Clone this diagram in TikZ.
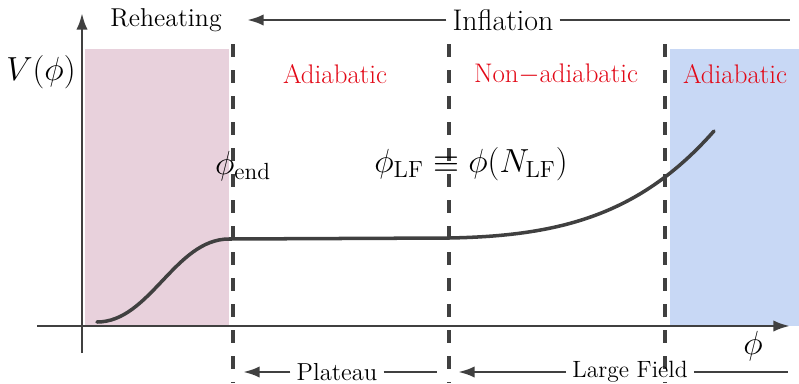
\RequirePackage{fix-cm}
\documentclass[tikz,border=0pt]{standalone}
\usepackage{amsmath}
\usetikzlibrary{arrows.meta}

\definecolor{ink}{RGB}{64,64,64}
\definecolor{reheatpink}{RGB}{232,209,220}
\definecolor{lfblue}{RGB}{200,216,245}
\definecolor{adred}{RGB}{226,8,22}

\begin{document}
\begin{tikzpicture}[x=0.02cm, y=-0.02cm, >={Latex[length=9.5pt,width=6.5pt]},
    font=\fontsize{14}{17}\selectfont,
    region/.style={text=adred, font=\fontsize{15.3}{18}\selectfont},
    mathlab/.style={font=\fontsize{19}{22}\selectfont},
    bound/.style={ink, line width=2.3pt, dash pattern=on 7.4pt off 7.4pt},
    span/.style={ink, line width=1.6pt}]
  \useasboundingbox (0,0) rectangle (799,383);
  % shaded regions
  \fill[reheatpink] (85,49) rectangle (229,326);
  \fill[lfblue] (670,49) rectangle (799,326);
  % axes
  \coordinate (xl) at (37,326);
  \coordinate (xr) at (790,326);
  \coordinate (yb) at (82,353);
  \coordinate (yt) at (82,13);
  \draw[span,->] (xl) -- (xr);
  \draw[span,->] (yb) -- (yt);
  % boundaries
  \foreach \x in {233,449,665}{
     \draw[bound] (\x,44) -- (\x,383);
  }
  % potential
  \draw[ink, line width=2pt, line cap=round] (97,322)
     .. controls (150,322) and (175,239) .. (229,239) -- (449,238)
     .. controls (560,236) and (640,215) .. (714,131);
  % labels
  \node[mathlab] (vlab) at (41,72) {$V(\phi)$};
  \node[mathlab] (philab) at (753,346) {$\phi$};
  \node[mathlab] (phiend) at (243,166) {$\phi_{\rm end}$};
  \node[mathlab] (philf) at (471,164)
    {$\phi_{\mathrm{LF}} \equiv \phi(N_{\mathrm{LF}})$};
  \node[region] (adleft) at (335,74) {Adiabatic};
  \node[region] (nonad) at (556,74) {Non$-$adiabatic};
  \node[region] (adright) at (735,74) {Adiabatic};
  % top span
  \node[font=\fontsize{14.7}{17}\selectfont] (reheat) at (166,20) {Reheating};
  \node[font=\fontsize{17}{20}\selectfont] (infl) at (503,20) {Inflation};
  \coordinate (inflend) at (247,20);
  \coordinate (inflstart) at (790,20);
  \draw[span,->] (infl.west) -- (inflend);
  \draw[span] (infl.east) -- (inflstart);
  % bottom spans
  \node (plat) at (337,372) {Plateau};
  \coordinate (platend) at (243,372);
  \coordinate (platstart) at (437,372);
  \draw[span,->] (plat.west) -- (platend);
  \draw[span] (plat.east) -- (platstart);
  \node[font=\fontsize{13.4}{16}\selectfont] (large) at (630,372) {Large Field};
  \coordinate (largeend) at (458,372);
  \coordinate (largestart) at (788,372);
  \draw[span,->] (large.west) -- (largeend);
  \draw[span] (large.east) -- (largestart);
\end{tikzpicture}
\end{document}
